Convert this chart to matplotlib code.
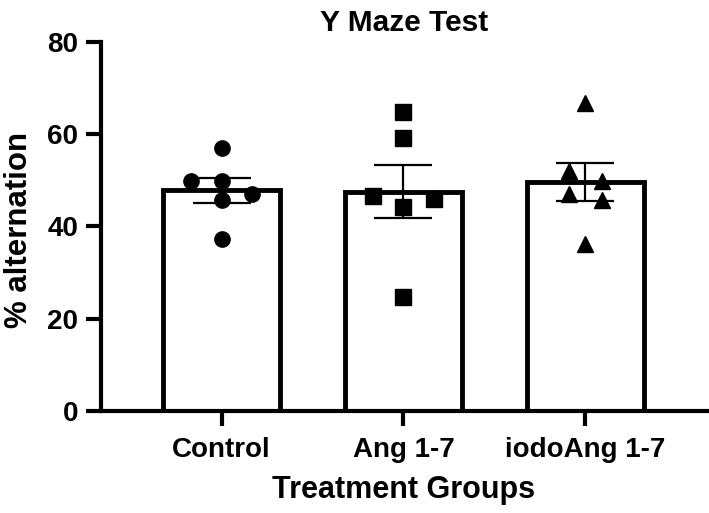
import numpy as np
import matplotlib
matplotlib.use("Agg")
import matplotlib.pyplot as plt

plt.rcParams['font.family'] = ['Liberation Sans', 'DejaVu Sans']
plt.rcParams['font.weight'] = 'bold'

groups = ["Control", "Ang 1-7", "iodoAng 1-7"]
control = [57.0, 49.9, 49.9, 47.1, 45.7, 37.3]
ang17 = [64.9, 59.1, 46.5, 46.0, 44.2, 24.6]
iodo = [66.7, 52.0, 49.9, 47.0, 45.8, 36.1]
values = [control, ang17, iodo]
markers = ["o", "s", "^"]
jitter = [[0, -0.165, 0, 0.165, 0, 0],
          [0, 0, -0.165, 0.165, 0, 0],
          [0, -0.09, 0.09, -0.09, 0.09, 0]]

means = [np.mean(v) for v in values]
sems = [np.std(v, ddof=1) / np.sqrt(len(v)) for v in values]

fig = plt.figure(figsize=(7.09, 5.13), dpi=100)
ax = fig.add_axes([0.1425, 0.199, 0.8545, 0.7193])

x = np.arange(len(groups))
ax.bar(x, means, width=0.64, color='white', edgecolor='black', linewidth=3.5, zorder=1)
ax.errorbar(x, means, yerr=sems, fmt='none', ecolor='black', elinewidth=1.6,
            capsize=21, capthick=1.6, zorder=2)
for i, (v, m) in enumerate(zip(values, markers)):
    ms = 11 if m == "o" else (11 if m == "s" else 12)
    ax.plot(x[i] + np.array(jitter[i]), v, linestyle='none', marker=m,
            markersize=ms, color='black', zorder=3)

ax.set_xlim(-0.662, 2.667)
ax.set_ylim(0, 80)
ax.set_yticks([0, 20, 40, 60, 80])
ax.set_xticks(x)
ax.set_xticklabels(groups)
for s in ['top', 'right']:
    ax.spines[s].set_visible(False)
for s in ['left', 'bottom']:
    ax.spines[s].set_linewidth(3)
ax.tick_params(axis='both', width=3, length=10.5, labelsize=20)
ax.tick_params(axis='x', pad=8)
ax.tick_params(axis='y', pad=6)
ax.set_ylabel("% alternation", fontsize=22.5, fontweight='bold')
ax.yaxis.set_label_coords(-0.110, 0.49)
ax.set_xlabel("Treatment Groups", fontsize=22, fontweight='bold', labelpad=9)
ax.set_title("Y Maze Test", fontsize=21.5, fontweight='bold', pad=8)

fig.savefig("out.png", dpi=100)
